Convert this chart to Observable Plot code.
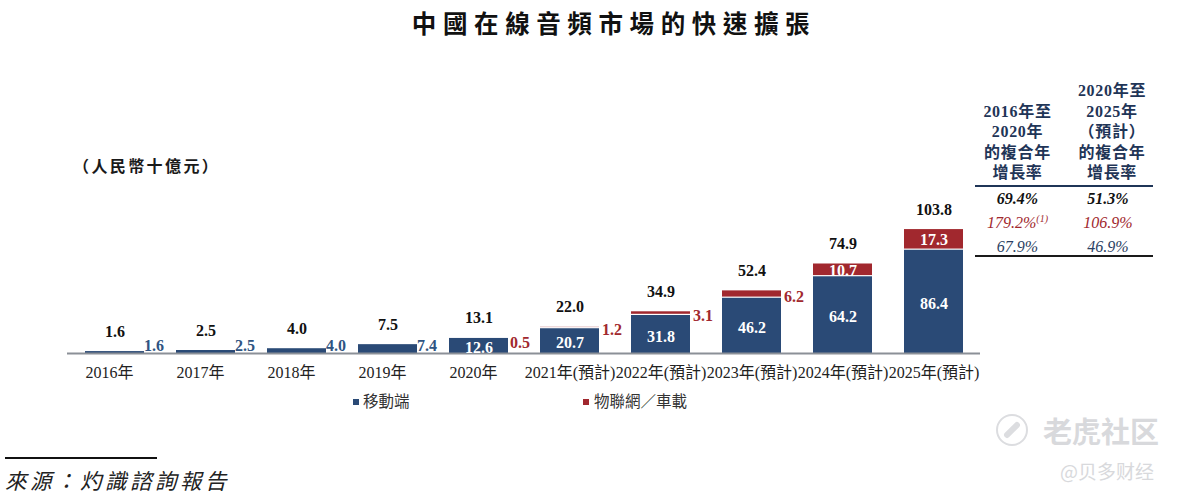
<!DOCTYPE html>
<html lang="zh-Hant"><head><meta charset="utf-8">
<script src="https://cdn.jsdelivr.net/npm/d3@7"></script>
<script src="https://cdn.jsdelivr.net/npm/@observablehq/plot@0.6"></script>
<style>
html,body{margin:0;padding:0;background:#fff;overflow:hidden}
body{width:1184px;height:498px;position:relative;font-family:"Liberation Serif","Noto Sans CJK TC",serif;color:#1a1a1a}
#title{position:absolute;left:0;top:10px;width:1228px;text-align:center;font-size:24.5px;font-weight:700;letter-spacing:6.6px;line-height:30px;color:#111}
#chart{position:absolute;left:0;top:60px}
#chart svg{display:block}
#unit{position:absolute;left:73px;top:156px;font-size:16px;font-weight:700;letter-spacing:2.4px;line-height:22px;white-space:nowrap}
#cagr{position:absolute;left:975px;top:78px;width:178px}
#cagr .head{display:grid;grid-template-columns:85px 104px;align-items:end;height:106px;border-bottom:2.5px solid #1f3557;color:#1f3557;font-weight:700;font-size:16px;line-height:20.6px;text-align:center;letter-spacing:.7px;padding-bottom:1px}
#cagr .row{display:grid;grid-template-columns:85px 96px;text-align:center;font-style:italic;font-size:16px;line-height:24px}
#cagr .rows{border-bottom:2px solid #1a1a1a;height:70px;box-sizing:border-box}
#cagr sup{font-size:10px;line-height:0;vertical-align:6px}
#legend div{position:absolute;top:393px;font-size:15.5px;line-height:18px;color:#333;white-space:nowrap}
#legend i{position:absolute;top:399px;width:6px;height:6px}
#rule{position:absolute;left:5px;top:457px;width:152px;height:1.5px;background:#111}
#source{position:absolute;left:5px;top:468px;font-size:21.5px;font-style:italic;letter-spacing:3.5px;line-height:28px;color:#222;white-space:nowrap}
#wm1{position:absolute;left:1043px;top:413px;font:700 29px "Noto Sans CJK SC";line-height:34px;color:#d8d9dc;white-space:nowrap}
#wm2{position:absolute;left:1060px;top:460px;font:400 19px "Noto Sans CJK SC";line-height:22px;color:#d8d9dc;white-space:nowrap}
#ring{position:absolute;left:996px;top:414px;width:28px;height:28px;border:2.5px solid #dcdde0;border-radius:50%}
#ring b{position:absolute;left:4px;top:11px;width:20px;height:6px;border-radius:3px;background:#dcdde0;transform:rotate(-45deg)}
</style></head><body>
<div id="title">中國在線音頻市場的快速擴張</div>
<div id="chart"></div>
<div id="unit">（人民幣十億元）</div>
<div id="cagr"></div>
<div id="legend"></div>
<div id="rule"></div>
<div id="source">來源：灼識諮詢報告</div>
<div id="ring"><b></b></div>
<div id="wm1">老虎社区</div>
<div id="wm2">@贝多财经</div>
<script>
const years = ["2016年","2017年","2018年","2019年","2020年","2021年(預計)","2022年(預計)","2023年(預計)","2024年(預計)","2025年(預計)"];
const mobile = [1.6,2.5,4.0,7.4,12.6,20.7,31.8,46.2,64.2,86.4];
const iot = [0,0,0,0,0.5,1.2,3.1,6.2,10.7,17.3];
const totals = ["1.6","2.5","4.0","7.5","13.1","22.0","34.9","52.4","74.9","103.8"];
const seriesNames = ["移動端","物聯網／車載"];
const seriesColors = ["#2a4a76","#a1282e"];
const cagrHead = ["2016年至<br>2020年<br>的複合年<br>增長率","2020年至<br>2025年<br>（預計）<br>的複合年<br>增長率"];
const cagrTotal = ["69.4%","51.3%"];
const cagrIot = ["179.2%","106.9%"];
const cagrMobile = ["67.9%","46.9%"];

const rows = years.map((year,i)=>({year,mobile:mobile[i],iot:iot[i],total:+totals[i],label:totals[i]}));
const font = '"Liberation Serif","Noto Sans CJK TC",serif';
const historic = years.slice(0,5), forecast = years.slice(5);
const hasIot = d=>d.iot>0;
const fmt = v=>v.toFixed(1);

const chart = Plot.plot({
  width:1184,height:325,
  marginLeft:67,marginRight:204,marginTop:149.6,marginBottom:32,
  style:{fontFamily:font,fontSize:"15px",background:"transparent",overflow:"visible"},
  x:{domain:years,paddingInner:0.354,paddingOuter:0.177,label:null},
  y:{domain:[0,120],axis:null},
  marks:[
    Plot.barY(rows,{x:"year",y1:0,y2:"mobile",fill:seriesColors[0]}),
    Plot.barY(rows.filter(hasIot),{x:"year",y1:d=>d.mobile,y2:d=>d.mobile+d.iot,fill:seriesColors[1],insetBottom:1.2}),
    Plot.ruleY([0],{stroke:"#8b9097",strokeWidth:2.2}),
    Plot.axisX({ticks:historic,tickSize:0,tickPadding:0,textAnchor:"start",dx:-29.5,dy:13,fontSize:16,fill:"#222",label:null}),
    Plot.axisX({ticks:forecast,tickSize:0,tickPadding:0,dy:13,dx:0,fontSize:16,fill:"#222",label:null}),
    Plot.text(rows,{x:"year",y:"total",text:"label",dy:-20,fontWeight:700,fontSize:16,fill:"#111"}),
    Plot.text(rows.slice(4),{x:"year",y:d=>d.mobile/2,text:d=>fmt(d.mobile),dy:2,fontWeight:700,fontSize:16,fill:"#fff"}),
    Plot.text(rows.slice(8),{x:"year",y:d=>d.mobile+d.iot/2,text:d=>fmt(d.iot),dy:0,fontWeight:700,fontSize:16,fill:"#fff"}),
    Plot.text(rows.slice(0,4),{x:"year",y:0,text:d=>fmt(d.mobile),textAnchor:"start",dx:29,dy:-7.5,fontWeight:700,fontSize:16,fill:"#2f5482"}),
    Plot.text(rows.slice(4,5),{x:"year",y:d=>d.mobile+d.iot/2,text:d=>fmt(d.iot),textAnchor:"start",dx:31,dy:5,fontWeight:700,fontSize:16,fill:seriesColors[1]}),
    Plot.text(rows.slice(5,8),{x:"year",y:d=>d.mobile+d.iot/2,text:d=>fmt(d.iot),textAnchor:"start",dx:32,dy:2,fontWeight:700,fontSize:16,fill:seriesColors[1]})
  ]
});
document.getElementById("chart").append(chart);
document.getElementById("cagr").innerHTML =
  `<div class="head"><div>${cagrHead[0]}</div><div>${cagrHead[1]}</div></div>
   <div class="rows">
   <div class="row" style="font-weight:700;color:#111"><div>${cagrTotal[0]}</div><div>${cagrTotal[1]}</div></div>
   <div class="row" style="color:${seriesColors[1]}"><div>${cagrIot[0]}<sup>(1)</sup></div><div>${cagrIot[1]}</div></div>
   <div class="row" style="color:#2c3f63"><div>${cagrMobile[0]}</div><div>${cagrMobile[1]}</div></div>
   </div>`;
const lx=[[353,363],[583,594]];
document.getElementById("legend").innerHTML = seriesNames.map((n,i)=>
  `<i style="left:${lx[i][0]}px;background:${seriesColors[i]}"></i><div style="left:${lx[i][1]}px">${n}</div>`).join("");
</script></body></html>
